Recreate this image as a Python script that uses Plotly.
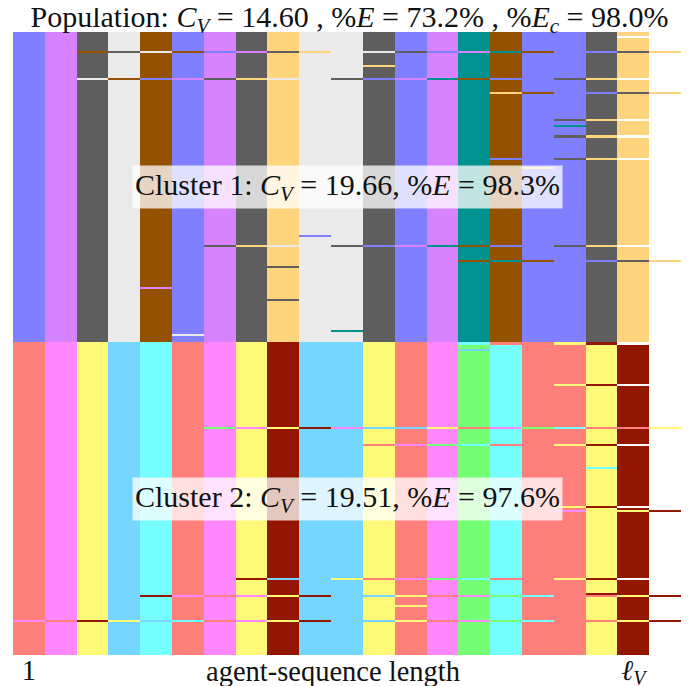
import plotly.graph_objects as go

# ---- agents (one colour per agent code) ----
AGENT_CODES = ["B", "V", "D", "L", "W", "O", "T", "S", "P", "Y", "C", "A", "R", "G"]
AGENT_COLORS = ["#7F7FFF", "#D783FF", "#5E5E5E", "#EAEAEA", "#945200", "#FFD47F", "#00928F",
                "#FF7F7A", "#FF88FF", "#FFF977", "#75D6FF", "#75FFFF", "#931600", "#75FF75"]

# ---- cluster 1 ----
CENTROID_1 = "BVDLWBVDOLLDBVTWBBDO"
N_ROWS_1 = 150
VARIANTS_1 = {
    2: "BVDLWBVDOLLDBVTWBBD",
    9: "BVWDLWBVDOLLDBVTWBBDO",
    16: "BVDLWBVDOLLOBVTWBBDO",
    22: "BVLWBVDOLLDBVTWBBDO",
    29: "BVDLWBVDOLLDBVTOWBBDO",
    42: "BVDLWBVDOLLDBVTWBDO",
    45: "BVDLWBVDOLLDBVTWBTDO",
    50: "BVDLWBVDOLLDBVTWBDO",
    61: "BVDLWBVDOLLDBVTBBDO",
    65: "BVDLWBVDOLLDBVTWOBDO",
    98: "BVDLWBVDOBLDBVTWBBDO",
    103: "BVDLWBDOLLDBVTWBBDO",
    110: "BVDLWBVDOLLDBVWTWBBDO",
    113: "BVDLWBVDDLLDBVTWBBDO",
    123: "BVDLVBVDOLLDBVTWBBDO",
    129: "BVDLWBVDDLLDBVTWBBDO",
    144: "BVDLWBVDOLTDBVTWBBDO",
    146: "BVDLWLVDOLLDBVTWBBDO",
}

# ---- cluster 2 ----
CENTROID_2 = "SPYCASPYRCCYSPGASSYR"
N_ROWS_2 = 151
VARIANTS_2 = {
    0: "SPYCASPYRCCYSPASSYR",
    3: "SPYCASPYRCCYSPCASSYR",
    20: "SPYCASPYRCCYSPGASYR",
    41: "SPYCASGPYRPCCYSPGASSY",
    49: "SPYCASPYRCCSPGASSYR",
    60: "SPYCASPYRCCYSPGASSAR",
    79: "SPYCASPYRCCYSPGASYR",
    81: "SPYCASPYRCCYSPGASPYYR",
    114: "SPYCASPRCCYSPGASSYR",
    121: "SPYCASPYRCCYSPGASSRR",
    122: "SPYCRPSPYRCCYSPGASSYR",
    127: "SPYCASPYRCCYYPGASSYR",
    134: "PSRYCASPYRCCYSPGASSYR",
}

N_POSITIONS = 21
X_TICK_VALUES = [1, 20]
X_TICK_TEXT = ["1", "<i>ℓ</i><sub><i>V</i></sub>"]
X_TITLE = "agent-sequence length"
TITLE = "Population: <i>C<sub>V</sub></i> = 14.60 , %<i>E</i> = 73.2% , %<i>E<sub>c</sub></i> = 98.0%"
CLUSTER_LABELS = [
    "Cluster 1: <i>C<sub>V</sub></i> = 19.66, %<i>E</i> = 98.3%",
    "Cluster 2: <i>C<sub>V</sub></i> = 19.51, %<i>E</i> = 97.6%",
]

FONT = "Liberation Serif"
BIG = 30
AXIS = 28.5

# ---- build matrix ----
code_index = {c: i for i, c in enumerate(AGENT_CODES)}


def rows_for(centroid, n, variants):
    out = []
    for r in range(n):
        seq = variants.get(r, centroid)
        row = [code_index[c] for c in seq[:N_POSITIONS]]
        row += [None] * (N_POSITIONS - len(row))
        out.append(row)
    return out


z = rows_for(CENTROID_1, N_ROWS_1, VARIANTS_1) + rows_for(CENTROID_2, N_ROWS_2, VARIANTS_2)
n_total = len(z)
ncol = len(AGENT_COLORS)
colorscale = []
for i, c in enumerate(AGENT_COLORS):
    colorscale.append([i / ncol, c])
    colorscale.append([(i + 1) / ncol, c])

fig = go.Figure(go.Heatmap(
    z=z,
    x=list(range(1, N_POSITIONS + 1)),
    y=list(range(n_total)),
    colorscale=colorscale,
    zmin=-0.5, zmax=ncol - 0.5,
    showscale=False,
    hoverinfo="skip",
))

# page body has an 8px margin, so the figure is sized/offset to land on the same pixels
W, H = 683, 678
ML, MR, MT, MB = 5, 10, 24, 31
plot_h = H - MT - MB

annotations = []
centers = [(N_ROWS_1 - 1) / 2, N_ROWS_1 + (N_ROWS_2 - 1) / 2]
for label, yc in zip(CLUSTER_LABELS, centers):
    annotations.append(dict(
        x=0.5, xref="paper", y=yc, yref="y", text=label, showarrow=False,
        font=dict(family=FONT, size=BIG, color="#111111"),
        bgcolor="rgba(255,255,255,0.76)", borderpad=2,
    ))
annotations.append(dict(
    x=(333 - 13) / (W - ML - MR), xref="paper", y=-16 / plot_h, yref="paper", yanchor="middle",
    text=X_TITLE, showarrow=False, font=dict(family=FONT, size=AXIS, color="#111111"),
))

fig.update_layout(
    width=W, height=H,
    margin=dict(l=ML, r=MR, t=MT, b=MB, autoexpand=False),
    paper_bgcolor="white", plot_bgcolor="white",
    title=dict(text=TITLE, x=0.5, xanchor="center", y=1 - 8 / H, yanchor="middle",
               font=dict(family=FONT, size=BIG, color="#111111"), automargin=False),
    xaxis=dict(range=[0.5, N_POSITIONS + 0.5], showgrid=False, zeroline=False, automargin=False,
               tickvals=X_TICK_VALUES, ticktext=X_TICK_TEXT, ticks="", ticklabelstandoff=-5,
               tickfont=dict(family=FONT, size=AXIS, color="#111111")),
    yaxis=dict(range=[n_total - 0.5, -0.5], visible=False, showgrid=False, zeroline=False,
               automargin=False),
    annotations=annotations,
)

fig.write_html("out.html")
